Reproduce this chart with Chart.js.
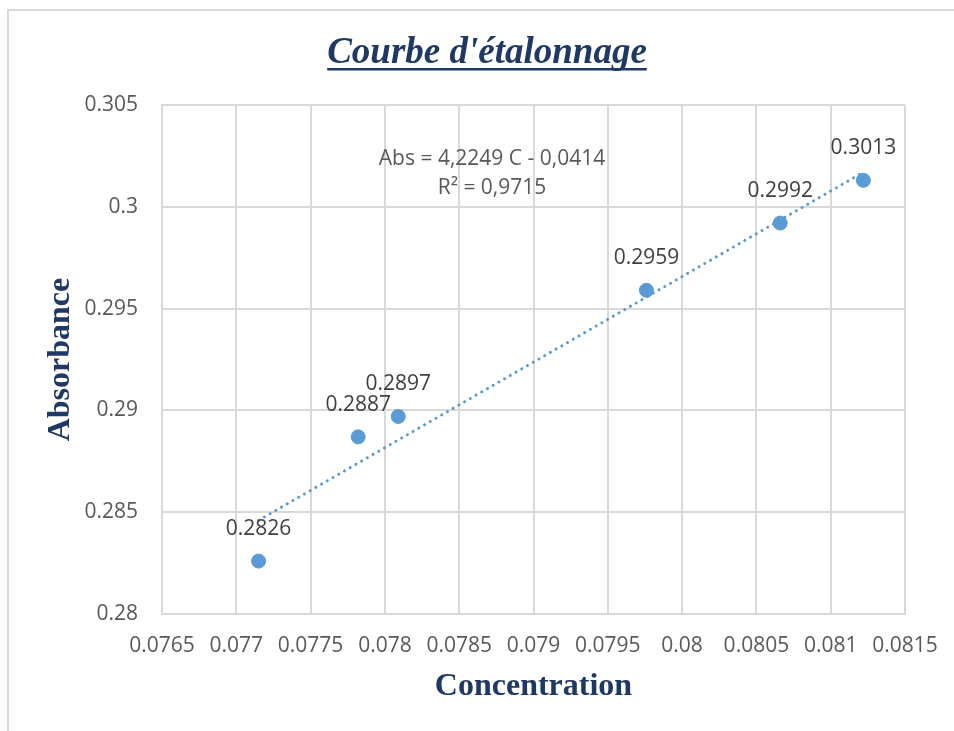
<!DOCTYPE html>
<html>
<head>
<meta charset="utf-8">
<title>Courbe d'étalonnage</title>
<script src="https://cdn.jsdelivr.net/npm/chart.js@4"></script>
<style>
  body { margin: 0; background: #fff; }
  #wrap { position: relative; width: 954px; height: 731px; overflow: hidden; }
  #frame { position: absolute; left: 7px; top: 9px; width: 1000px; height: 800px;
           border-top: 2px solid #d9d9d9; border-left: 2px solid #d9d9d9; }
  #graph { position: absolute; left: 0; top: 0; }
</style>
</head>
<body>
<div id="wrap">
  <div id="frame"></div>
  <canvas id="graph" width="954" height="731"></canvas>
</div>
<script>
// valeurs
const concentration = [0.07715, 0.07782, 0.07809, 0.07976, 0.08066, 0.08122];
const absorbance = [0.2826, 0.2887, 0.2897, 0.2959, 0.2992, 0.3013];
// droite de tendance (extrémités)
const trendX = [0.07715, 0.08122];
const trendY = [0.2846, 0.3017];
const equationLines = ['Abs = 4,2249 C - 0,0414', 'R² = 0,9715'];

const navy = '#1f3864';
const grey = '#595959';
const blue = '#5b9bd5';

const titlePlugin = {
    id: 'titreSouligne',
    afterDraw(chart) {
        const c = chart.ctx;
        c.save();
        c.font = 'italic bold 37px "Liberation Serif", "Times New Roman", serif';
        c.fillStyle = navy;
        c.textAlign = 'center';
        c.textBaseline = 'alphabetic';
        const txt = "Courbe d'étalonnage";
        c.fillText(txt, 487, 63);
        const w = c.measureText(txt).width;
        c.fillRect(487 - w / 2, 68, w, 2.5);
        // équation de la droite
        c.font = '21px "Open Sans", sans-serif';
        c.fillStyle = grey;
        c.textBaseline = 'middle';
        c.fillText(equationLines[0], 492, 159);
        c.fillText(equationLines[1], 492, 188);
        c.restore();
    }
};

const labelPlugin = {
    id: 'etiquettes',
    afterDatasetsDraw(chart) {
        const c = chart.ctx;
        const meta = chart.getDatasetMeta(1);
        c.save();
        c.font = '21px "Open Sans", sans-serif';
        c.fillStyle = '#404040';
        c.textAlign = 'center';
        c.textBaseline = 'middle';
        meta.data.forEach((pt, i) => {
            c.fillText(String(absorbance[i]), pt.x, pt.y - 32);
        });
        c.restore();
    }
};

const fmt = v => parseFloat(v.toFixed(4)).toString();

new Chart(document.getElementById('graph'), {
    type: 'scatter',
    data: {
        datasets: [{
            type: 'line',
            label: 'Tendance',
            data: trendX.map((x, i) => ({x: x, y: trendY[i]})),
            borderColor: blue,
            borderWidth: 3,
            borderDash: [0.1, 6.5],
            borderCapStyle: 'round',
            pointRadius: 0,
            fill: false
        }, {
            label: 'Absorbance',
            data: concentration.map((x, i) => ({x: x, y: absorbance[i]})),
            backgroundColor: blue,
            borderColor: blue,
            pointRadius: 7,
            pointHoverRadius: 7
        }]
    },
    options: {
        responsive: false,
        animation: false,
        layout: { padding: { top: 105, right: 49, left: 0, bottom: 0 } },
        plugins: {
            legend: { display: false },
            title: { display: false },
            tooltip: { enabled: false }
        },
        scales: {
            x: {
                type: 'linear',
                min: 0.0765,
                max: 0.0815,
                afterFit: s => { s.height = 117; s.paddingRight = 0; s.paddingLeft = 0; },
                ticks: {
                    stepSize: 0.0005,
                    autoSkip: false,
                    maxRotation: 0,
                    padding: 19,
                    color: grey,
                    font: { family: '"Open Sans", sans-serif', size: 21 },
                    callback: fmt
                },
                grid: { color: '#d9d9d9', lineWidth: 2, drawTicks: false },
                border: { color: '#d9d9d9', width: 2 },
                title: {
                    display: true,
                    text: 'Concentration',
                    color: navy,
                    font: { family: '"Liberation Serif", "Times New Roman", serif', size: 32, weight: 'bold' },
                    padding: { top: 0, bottom: 25 }
                }
            },
            y: {
                min: 0.28,
                max: 0.305,
                afterFit: s => { s.width = 162; },
                ticks: {
                    stepSize: 0.005,
                    padding: 24,
                    color: grey,
                    font: { family: '"Open Sans", sans-serif', size: 21 },
                    callback: fmt
                },
                grid: { color: '#d9d9d9', lineWidth: 2, drawTicks: false },
                border: { color: '#d9d9d9', width: 2 },
                title: {
                    display: true,
                    text: 'Absorbance',
                    color: navy,
                    font: { family: '"Liberation Serif", "Times New Roman", serif', size: 32, weight: 'bold' },
                    padding: { top: 42, bottom: 0 }
                }
            }
        }
    },
    plugins: [titlePlugin, labelPlugin]
});
</script>
</body>
</html>
